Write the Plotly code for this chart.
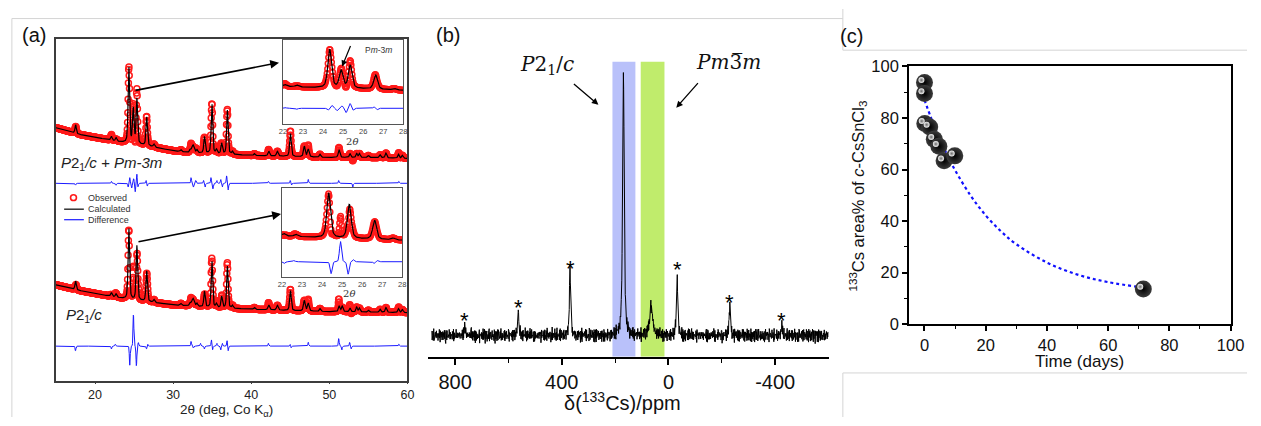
import numpy as np
import plotly.graph_objects as go

SANS = "Arial, 'Liberation Sans', sans-serif"
SERIF = "'DejaVu Serif', 'Liberation Serif', serif"

# ---------------- (a) PXRD Rietveld refinement (Co Kα) ----------------
# background knots: 2θ and intensity (arb. units) of each stacked pattern
bg_tt = [15, 18, 20, 22, 24, 26, 28, 30, 32, 35, 40, 45, 50, 55, 60]
bg_mixed = [264, 257, 254, 251, 248, 246, 243, 240, 238, 237, 235, 234, 233, 233, 232]
bg_mono = [100, 94, 91, 88, 85, 83, 81, 79, 78, 76, 74.5, 73, 72, 71.5, 71]

# calculated reflections, two-phase refinement (P2_1/c + Pm-3m)
mixed_pos = [17.52, 22.10, 22.70, 24.33, 24.90, 25.36, 26.62, 27.55, 31.0, 32.2, 32.55, 33.05,
             34.02, 34.97, 35.55, 36.22, 36.95, 37.6, 40.4, 42.25, 43.35, 45.02, 46.8, 47.3,
             48.8, 51.25, 52.65, 53.5, 53.85, 55.0, 56.5, 57.25, 58.85, 59.35]
mixed_h = [9, 4, 3.5, 80, 36, 47, 30, 3, 2, 3, 8, 3,
           17, 52, 4, 11, 46, 3, 2, 5, 5, 24, 11, 8,
           3, 8, 4, 4, 4, 2, 3, 5, 4, 3]
mixed_w = [0.2, 0.22, 0.22, 0.22, 0.22, 0.22, 0.22, 0.22, 0.22, 0.22, 0.35, 0.22,
           0.22, 0.22, 0.22, 0.22, 0.22, 0.22, 0.22, 0.26, 0.26, 0.24, 0.26, 0.26,
           0.22, 0.26, 0.22, 0.22, 0.22, 0.22, 0.22, 0.24, 0.22, 0.22]

# calculated reflections, single-phase refinement (P2_1/c)
mono_pos = [17.52, 22.10, 22.70, 24.33, 25.36, 26.62, 27.55, 31.0, 32.2, 32.55, 33.05,
            34.02, 34.97, 35.55, 36.22, 36.95, 37.6, 40.4, 42.25, 43.35, 45.02, 46.8, 47.3,
            48.8, 51.25, 51.65, 52.65, 53.5, 53.85, 55.0, 56.5, 57.25, 58.85, 59.35]
mono_h = [9, 4, 3.5, 75, 57, 32, 3, 2, 3, 8, 3,
          16, 49, 4, 12, 44, 3, 2, 5, 5, 21, 11, 8,
          3, 6, 6, 4, 5, 4, 2, 3, 5, 4, 3]
mono_w = [0.2, 0.22, 0.22, 0.22, 0.22, 0.22, 0.22, 0.22, 0.22, 0.35, 0.22,
          0.22, 0.22, 0.22, 0.22, 0.22, 0.22, 0.22, 0.26, 0.26, 0.24, 0.26, 0.26,
          0.22, 0.24, 0.24, 0.22, 0.22, 0.22, 0.22, 0.22, 0.24, 0.22, 0.22]

# observed - calculated residual features (position, signed amplitude)
dmix_pos = [17.5, 22.1, 22.7, 24.25, 24.45, 24.7, 24.95, 25.15, 25.35, 25.5, 26.55, 26.7,
            32.3, 32.6, 32.9, 33.9, 34.1, 34.85, 35.1, 35.6, 36.1, 36.3, 36.85, 37.05,
            42.2, 45.0, 45.15, 47.3, 51.2, 53.0, 58.9]
dmix_amp = [-2, 2, -2, -4, 6, -5, 5, -9, 10, -4, 3, -3,
            6, -4, 3, 3, -4, 6, -6, 3, 4, -4, 8, -7,
            2, 3, -2, 4, 3, -4, 2]
dmono_pos = [17.5, 22.1, 22.6, 24.45, 24.92, 25.3, 25.55, 26.6, 26.75, 32.3, 32.6, 33.5, 34.0,
             34.9, 35.05, 35.6, 36.1, 36.3, 36.9, 37.05, 42.2, 45.0, 45.1, 47.3, 51.2, 51.6,
             52.6, 52.8, 58.9]
dmono_amp = [-5, -3, 2, -20, 34, -21, 4, -3, 2, 5, -2, 3, -3,
             7, -4, 3, -4, 3, 6, -5, 3, 2, -2, 4, 8, -4,
             4, -3, 2]
DIFF_W = 0.12

diff_base_mixed = 206       # offset of the residual curves
diff_base_mono = 36
diff_base_mono_inset = 45


def profile(x, pos, h, w, eta=0.5):
    out = np.zeros_like(x)
    for p, a, ww in zip(pos, h, w):
        d = (x - p) / ww
        out += a * (eta / (1 + 4 * d * d) + (1 - eta) * np.exp(-4 * np.log(2) * d * d))
    return out


def patterns(x, bg, pos, h, w, dpos, damp, dbase):
    calc = np.interp(x, bg_tt, bg) + profile(x, pos, h, w)
    diff = profile(x, dpos, damp, [DIFF_W] * len(dpos), eta=0.2)
    return calc + diff, calc, dbase + diff


tt = np.arange(15, 60.0001, 0.035)
tt_in = np.arange(22, 28.0001, 0.025)

# ---------------- (b) 133Cs MAS NMR ----------------
nmr_pos = [763, 563, 369, 169, 65, -32, -230, -425]
nmr_h = [10, 25, 66, 275, 29, 65, 31, 10]
nmr_w = [6, 6, 6, 7, 14, 6, 6, 6]
nmr_base = 22
sideband_pos = [763, 563, 369, -32, -230, -425]
mono_band = [210, 124]      # P2_1/c shift region (ppm)
cubic_band = [104, 15]      # Pm-3m shift region (ppm)
# spectrometer baseline noise (normalised)
noise_a = [0.3, -0.6, 0.8, -0.2, 0.5, -0.9, 0.1, 0.7, -0.4, 0.2, -0.8, 0.6, -0.1, 0.9, -0.5, 0.3,
           -0.7, 0.4, -0.3, 0.8, -0.6, 0.0, 0.5, -1.0, 0.6, -0.2, 0.3, -0.5, 0.9, -0.3, 0.1, -0.7,
           0.7, -0.4, 0.2, -0.9, 0.5, 0.1, -0.6, 0.8, -0.2, 0.4, -0.8, 0.3, -0.1, 0.6, -0.5, 1.0,
           -0.3, 0.2, -0.6, 0.4, -0.9, 0.7, -0.1, 0.3, -0.4, 0.8, -0.7, 0.5, -0.2, 0.1, -0.8, 0.6,
           -0.3, 0.9, -0.5, 0.2, -0.1, 0.4, -0.7, 0.8, -0.4, 0.3, -0.6, 0.5, -0.2, 0.7, -0.9, 0.1,
           -0.3, 0.6, -0.5, 0.2, -0.8, 0.9, -0.1, 0.4, -0.6, 0.3, -0.4, 0.7, -0.2, 0.5, -0.7, 0.1,
           0.8, -0.5, 0.3, -0.9, 0.6]
noise_b = [0.9, -0.4, -0.8, 0.2, 0.6, -0.1, -0.6, 1.0, -0.9, 0.3, 0.1, -0.5, 0.7, -0.3, 0.4,
           -1.0, 0.5, 0.8, -0.2, -0.7, 0.3, 0.6, -0.4, 0.0, -0.8, 0.9, -0.6, 0.2, 0.5, -0.3,
           0.7, -0.9, 0.4, 0.1, -0.5, 0.8, -0.1]
NOISE_AMP = 8.0

ppm = np.arange(887, -598.5, -1.0)
n = np.arange(len(ppm))
noise = NOISE_AMP * (0.65 * np.array(noise_a)[n % len(noise_a)] + 0.45 * np.array(noise_b)[n % len(noise_b)])
spectrum = nmr_base + profile(ppm, nmr_pos, nmr_h, nmr_w, eta=0.75) + noise

# ---------------- (c) cubic fraction vs time ----------------
days = [0, 0, 0.1, 1.7, 3.2, 4.7, 6.4, 9.9, 71.5]
cubic_pct = [93.8, 89.5, 77.9, 76.5, 71.7, 69.0, 63.4, 65.3, 13.6]
fit_days = [0, 2, 4, 6, 8, 10, 15, 20, 25, 30, 40, 50, 60, 72]
fit_pct = [87, 80.5, 74.6, 69.2, 64.3, 59.7, 50.0, 42.2, 36.0, 31.0, 23.9, 19.2, 16.3, 14.1]

# ======================================================================
fig = go.Figure()

RED, BLUE = "#ff1a1a", "#1a1aff"


def add_xrd(x, obs, calc, diff, xa, ya, msize):
    fig.add_trace(go.Scatter(x=x, y=obs, mode="markers", xaxis=xa, yaxis=ya, name="Observed",
                             marker=dict(symbol="circle-open", color=RED, size=msize,
                                         line=dict(width=1.5, color=RED))))
    fig.add_trace(go.Scatter(x=x, y=calc, mode="lines", xaxis=xa, yaxis=ya, name="Calculated",
                             line=dict(color="black", width=1.2)))
    fig.add_trace(go.Scatter(x=x, y=diff, mode="lines", xaxis=xa, yaxis=ya, name="Difference",
                             line=dict(color=BLUE, width=1)))


o, c, d = patterns(tt, bg_mixed, mixed_pos, mixed_h, mixed_w, dmix_pos, dmix_amp, diff_base_mixed)
add_xrd(tt, o, c, d, "x", "y", 6)
o, c, d = patterns(tt, bg_mono, mono_pos, mono_h, mono_w, dmono_pos, dmono_amp, diff_base_mono)
add_xrd(tt, o, c, d, "x", "y", 6)
o, c, d = patterns(tt_in, bg_mixed, mixed_pos, mixed_h, mixed_w, dmix_pos, dmix_amp, diff_base_mixed)
add_xrd(tt_in, o, c, d, "x2", "y2", 5.5)
o, c, d = patterns(tt_in, bg_mono, mono_pos, mono_h, mono_w, dmono_pos, dmono_amp, diff_base_mono_inset)
add_xrd(tt_in, o, c, d, "x3", "y3", 5.5)

# (b) spectrum
fig.add_trace(go.Scatter(x=ppm, y=spectrum, mode="lines", xaxis="x4", yaxis="y4",
                         line=dict(color="black", width=1)))

# (c) fit and data points
fig.add_trace(go.Scatter(x=fit_days, y=fit_pct, mode="lines", xaxis="x5", yaxis="y5",
                         line=dict(color="#1010ff", width=2.2, dash="dot", shape="spline")))
fig.add_trace(go.Scatter(x=days, y=cubic_pct, mode="markers", xaxis="x5", yaxis="y5",
                         marker=dict(size=17, color="#3c3c3c", line=dict(width=0),
                                     gradient=dict(type="radial", color="#000000"))))
fig.add_trace(go.Scatter(x=[v - 1.0 for v in days], y=[v + 0.9 for v in cubic_pct],
                         mode="markers", xaxis="x5", yaxis="y5",
                         marker=dict(size=6, color="#f4f4f4", line=dict(width=0),
                                     gradient=dict(type="radial", color="#6a6a6a"))))

W, H = 1261, 426


def px(x):
    return x / W


def py(y):
    return 1 - y / H


AX_A = "#3c3c3c"
box = dict(showline=True, mirror=True, showgrid=False, zeroline=False)

layout = dict(
    width=W, height=H, margin=dict(l=0, r=0, t=0, b=0), showlegend=False,
    paper_bgcolor="white", plot_bgcolor="rgba(0,0,0,0)",
    font=dict(family=SANS, color="#111"),
    xaxis=dict(domain=[px(52.7), px(409.3)], range=[15, 60], tickvals=[20, 30, 40, 50, 60],
               ticks="outside", ticklen=2, tickcolor=AX_A, linecolor=AX_A, linewidth=1.6,
               tickfont=dict(size=12.5, color="#222"), anchor="y", **box),
    yaxis=dict(domain=[py(388), py(31)], range=[0, 357], showticklabels=False, ticks="",
               linecolor=AX_A, linewidth=1.6, anchor="x", **box),
    xaxis2=dict(domain=[px(283), px(405)], range=[22, 28], dtick=1, ticks="", anchor="y2",
                linecolor="#555", linewidth=1, ticklabelstandoff=0,
                tickfont=dict(size=7.5, color="#444"), **box),
    yaxis2=dict(domain=[py(120), py(32)], range=[173.7, 347.7], showticklabels=False, ticks="",
                linecolor="#555", linewidth=1, anchor="x2", **box),
    xaxis3=dict(domain=[px(282), px(404)], range=[22, 28], dtick=1, ticks="", anchor="y3",
                linecolor="#555", linewidth=1, ticklabelstandoff=0,
                tickfont=dict(size=7.5, color="#444"), **box),
    yaxis3=dict(domain=[py(280), py(187)], range=[19.2, 168], showticklabels=False, ticks="",
                linecolor="#555", linewidth=1, anchor="x3", **box),
    xaxis4=dict(domain=[px(430), px(837)], range=[902, -602], tickvals=[800, 400, 0, -400],
                ticktext=["800", "400", "0", "-400"], showline=True, linecolor="black",
                linewidth=2, ticks="outside", ticklen=6, tickwidth=1.5, tickcolor="black",
                minor=dict(tickvals=[600, 200, -200], ticks="outside", ticklen=4, tickwidth=1.2,
                           tickcolor="black"),
                showgrid=False, zeroline=False, tickfont=dict(size=20, color="#111"), anchor="y4"),
    yaxis4=dict(domain=[py(363), py(53)], range=[0, 310], visible=False, anchor="x4"),
    xaxis5=dict(domain=[px(918.3), px(1244.3)], range=[-5, 100], tickvals=[0, 20, 40, 60, 80, 100],
                ticks="outside", ticklen=5, tickwidth=1.5, tickcolor="black", linecolor="black",
                linewidth=2, minor=dict(dtick=10, tick0=0, ticks="outside", ticklen=3, tickwidth=1.2,
                                        tickcolor="black"),
                tickfont=dict(size=16.5, color="#111"), anchor="y5", **box),
    yaxis5=dict(domain=[py(329), py(60)], range=[0, 100], tickvals=[0, 20, 40, 60, 80, 100],
                ticks="outside", ticklen=5, tickwidth=1.5, tickcolor="black", linecolor="black",
                linewidth=2, minor=dict(dtick=10, tick0=0, ticks="outside", ticklen=3, tickwidth=1.2,
                                        tickcolor="black"),
                tickfont=dict(size=16.5, color="#111"), anchor="x5", **box),
)
fig.update_layout(**layout)

# panel frames
GREY = "#d4d4d4"
frames = [((8, 10), (851, 10)), ((8, 10), (8, 426)), ((851, 0), (851, 43)),
          ((851, 43), (1261, 43)), ((851, 380), (851, 426)), ((851, 380), (1261, 380))]
for (x0, y0), (x1, y1) in frames:
    fig.add_shape(type="line", xref="paper", yref="paper", x0=px(x0), y0=py(y0), x1=px(x1),
                  y1=py(y1), line=dict(color=GREY, width=1))

# legend keys of (a)
fig.add_shape(type="circle", xref="paper", yref="paper", x0=px(67.5), x1=px(73.5),
              y0=py(200), y1=py(194), line=dict(color=RED, width=1.6))
fig.add_shape(type="line", xref="paper", yref="paper", x0=px(61), x1=px(81), y0=py(209),
              y1=py(209), line=dict(color="black", width=1.2))
fig.add_shape(type="line", xref="paper", yref="paper", x0=px(61), x1=px(81), y0=py(220),
              y1=py(220), line=dict(color=BLUE, width=1.2))

# shift regions in (b)
for band, col in ((mono_band, "#b9c1fa"), (cubic_band, "#c0ec6c")):
    fig.add_shape(type="rect", xref="x4", yref="y4", x0=band[0], x1=band[1], y0=0, y1=308,
                  fillcolor=col, line=dict(width=0), layer="below")

ann = []


def text(x, y, t, size, xanchor="left", family=SANS, color="#111", angle=0):
    ann.append(dict(x=px(x), y=py(y), xref="paper", yref="paper", text=t, showarrow=False,
                    xanchor=xanchor, yanchor="middle", textangle=angle,
                    font=dict(size=size, family=family, color=color)))


def arrow(x0, y0, x1, y1, width=1.5, head=2, size=1.0):
    ann.append(dict(x=px(x1), y=py(y1), xref="paper", yref="paper", ax=x0 - x1, ay=y0 - y1,
                    axref="pixel", ayref="pixel", text="", showarrow=True, arrowhead=head,
                    arrowsize=size, arrowwidth=width, arrowcolor="black"))


# panel letters
text(16, 27, "(a)", 20)
text(436, 27, "(b)", 20)
text(846, 28, "(c)", 20)

# (a) labels and legend text
text(83, 197, "Observed", 9, color="#333")
text(83, 209, "Calculated", 9, color="#333")
text(83, 220, "Difference", 9, color="#333")
text(56, 161, "<i>P</i>2<sub>1</sub><i>/c + Pm-3m</i>", 15, color="#222")
text(61, 320, "<i>P</i>2<sub>1</sub><i>/c</i>", 15, color="#222")
text(226, 419, "2θ (deg, Co K<sub>α</sub>)", 13.5, xanchor="center", color="#222")
text(364, 43, "P<i>m</i>-3<i>m</i>", 8.5, color="#333")
text(353, 138, "2<i>θ</i>", 10, xanchor="center", family=SERIF, color="#333")
text(350, 297, "2<i>θ</i>", 10, xanchor="center", family=SERIF, color="#333")
arrow(134, 84, 279, 56, width=1.6, head=2, size=1.1)
arrow(137, 242, 281, 214, width=1.6, head=2, size=1.1)
arrow(352, 38, 343, 60, width=1.2, head=2, size=1.0)

# (b) labels
text(521, 58, "<i>P</i>2<sub>1</sub>/<i>c</i>", 20, family=SERIF)
text(700, 55, "<i>Pm</i>3\u0305<i>m</i>", 20, family=SERIF)
text(627, 410, "δ(<sup>133</sup>Cs)/ppm", 20, xanchor="center")
arrow(577, 78, 603, 100, width=1.3, head=2, size=1.0)
arrow(705, 77, 682, 103, width=1.3, head=2, size=1.0)
for p in sideband_pos:
    h = nmr_h[nmr_pos.index(p)]
    ann.append(dict(x=p, y=nmr_base + max(h, 12) + 4, xref="x4", yref="y4", text="*",
                    showarrow=False, yanchor="middle", font=dict(size=22, family=SANS, color="black")))

# (c) labels
text(1091, 368, "Time (days)", 17, xanchor="center")
text(866, 195, "<sup>133</sup>Cs area% of <i>c</i>-CsSnCl<sub>3</sub>", 16.5, xanchor="center",
     angle=-90)

fig.update_layout(annotations=ann)
fig.write_html("out.html")
